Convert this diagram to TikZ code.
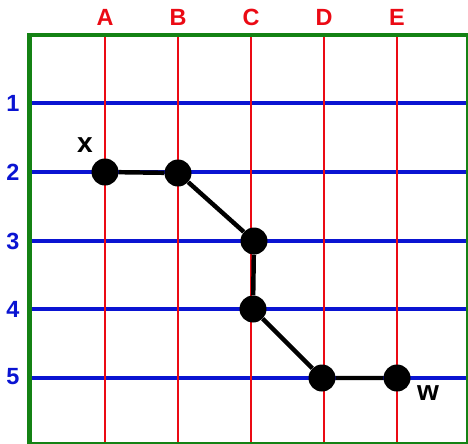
\documentclass[tikz,border=0pt]{standalone}
\usepackage{fontspec}
\setmainfont{Liberation Sans}
\usepackage{tikz}
\definecolor{gridred}{RGB}{235,10,20}
\definecolor{gridblue}{RGB}{10,20,210}
\definecolor{framegreen}{RGB}{20,130,20}

\begin{document}
\begin{tikzpicture}[x=0.03cm,y=-0.03cm,
    dot/.style={circle,fill=black,inner sep=0pt,minimum size=27*0.03cm},
    collabel/.style={text=gridred,font=\bfseries\fontsize{20}{20}\selectfont},
    rowlabel/.style={text=gridblue,font=\bfseries\fontsize{20}{20}\selectfont},
    endlabel/.style={font=\bfseries\fontsize{24}{24}\selectfont}]
    \useasboundingbox (0,0) rectangle (468,444);
    \begin{scope}
        \clip (0,0) rectangle (468,444);
        % horizontal rows
        \foreach \y/\n in {103/1,172/2,241/3,309/4,378/5}
            \draw[gridblue,line width=2.8pt] (30,\y) -- (468,\y);
        % vertical columns
        \foreach \x in {105,178,251,324,397}
            \draw[gridred,line width=2.2pt] (\x,36) -- (\x,444);
        \draw[framegreen,line width=4pt] (29.5,35) rectangle (468,444);
    \end{scope}
    % labels
    \node[collabel] (cA) at (105,17) {A};
    \node[collabel] (cB) at (178,17) {B};
    \node[collabel] (cC) at (251,17) {C};
    \node[collabel] (cD) at (324,17) {D};
    \node[collabel] (cE) at (397,17) {E};
    \node[rowlabel] (r1) at (13,103) {1};
    \node[rowlabel] (r2) at (13,172) {2};
    \node[rowlabel] (r3) at (13,241) {3};
    \node[rowlabel] (r4) at (13,309) {4};
    \node[rowlabel] (r5) at (13,377) {5};
    % path
    \node[dot] (a2) at (105,172) {};
    \node[dot] (b2) at (178,173) {};
    \node[dot] (c3) at (254,241) {};
    \node[dot] (c4) at (253,309) {};
    \node[dot] (d5) at (322,378) {};
    \node[dot] (e5) at (397,378) {};
    \draw[line width=3.8pt] (a2)--(b2)--(c3)--(c4)--(d5)--(e5);
    \node[endlabel] (x) at (85,145) {x};
    \node[endlabel] (w) at (428,393) {w};
\end{tikzpicture}
\end{document}
